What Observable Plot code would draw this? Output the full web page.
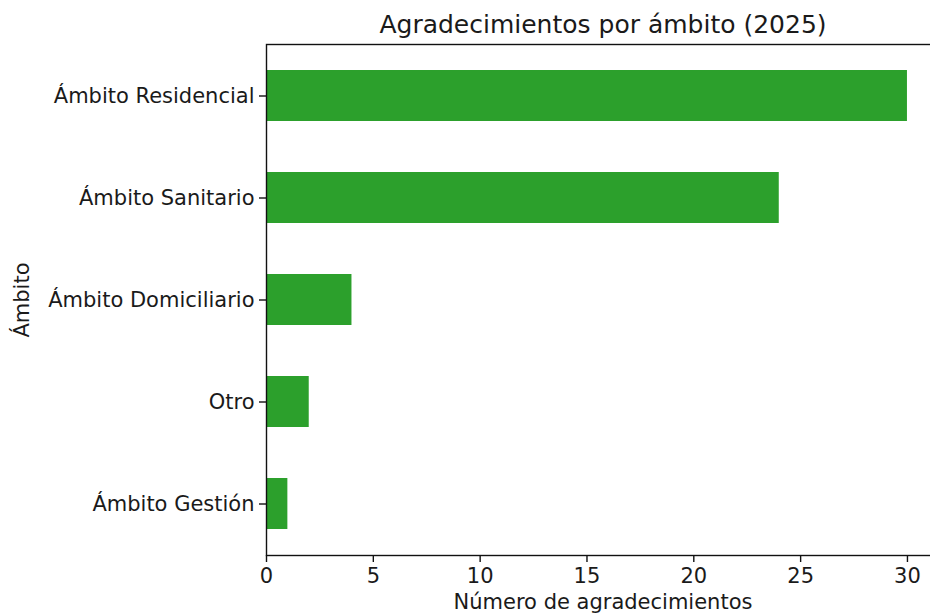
<!DOCTYPE html>
<html>
<head>
<meta charset="utf-8">
<script src="https://cdn.jsdelivr.net/npm/d3@7"></script>
<script src="https://cdn.jsdelivr.net/npm/@observablehq/plot@0.6"></script>
<style>
  html, body { margin: 0; padding: 0; background: white; overflow: hidden; }
</style>
</head>
<body>
<div id="chart"></div>
<script>
const categorias = ["Ámbito Residencial", "Ámbito Sanitario", "Ámbito Domiciliario", "Otro", "Ámbito Gestión"];
const valores = [30, 24, 4, 2, 1];
const xTicks = [0, 5, 10, 15, 20, 25, 30];
const titulo = "Agradecimientos por ámbito (2025)";
const xLabel = "Número de agradecimientos";
const yLabel = "Ámbito";

const data = categorias.map((c, i) => ({ambito: c, n: valores[i]}));

const chart = Plot.plot({
  width: 939,
  height: 615,
  marginLeft: 266,
  marginRight: 0,
  marginTop: 44,
  marginBottom: 60,
  style: {fontFamily: "DejaVu Sans", fontSize: "21px", color: "#1a1a1a", background: "white", overflow: "visible", maxWidth: "none"},
  x: {domain: [0, 31.5]},
  y: {domain: categorias, paddingInner: 0.5, paddingOuter: 0.243},
  marks: [
    Plot.barX(data, {x: "n", y: "ambito", fill: "#2ca02c"}),
    Plot.frame({stroke: "#111", strokeWidth: 1.4}),
    Plot.axisX({ticks: xTicks, tickSize: 7, tickPadding: 6, label: null, fontSize: 21, stroke: "#111", strokeWidth: 1.4}),
    Plot.axisY({tickSize: 7, tickPadding: 5, label: null, fontSize: 21, stroke: "#111", strokeWidth: 1.4}),
    Plot.text([titulo], {text: d => d, frameAnchor: "top", lineAnchor: "middle", textAnchor: "middle", dy: -20, fontSize: 25, fill: "#1a1a1a"}),
    Plot.text([xLabel], {text: d => d, frameAnchor: "bottom", lineAnchor: "middle", textAnchor: "middle", dy: 47, fontSize: 21, fill: "#1a1a1a"}),
    Plot.text([yLabel], {text: d => d, frameAnchor: "left", lineAnchor: "middle", textAnchor: "middle", dx: -244, rotate: -90, fontSize: 21, fill: "#1a1a1a"})
  ]
});
document.getElementById("chart").appendChild(chart);
</script>
</body>
</html>
